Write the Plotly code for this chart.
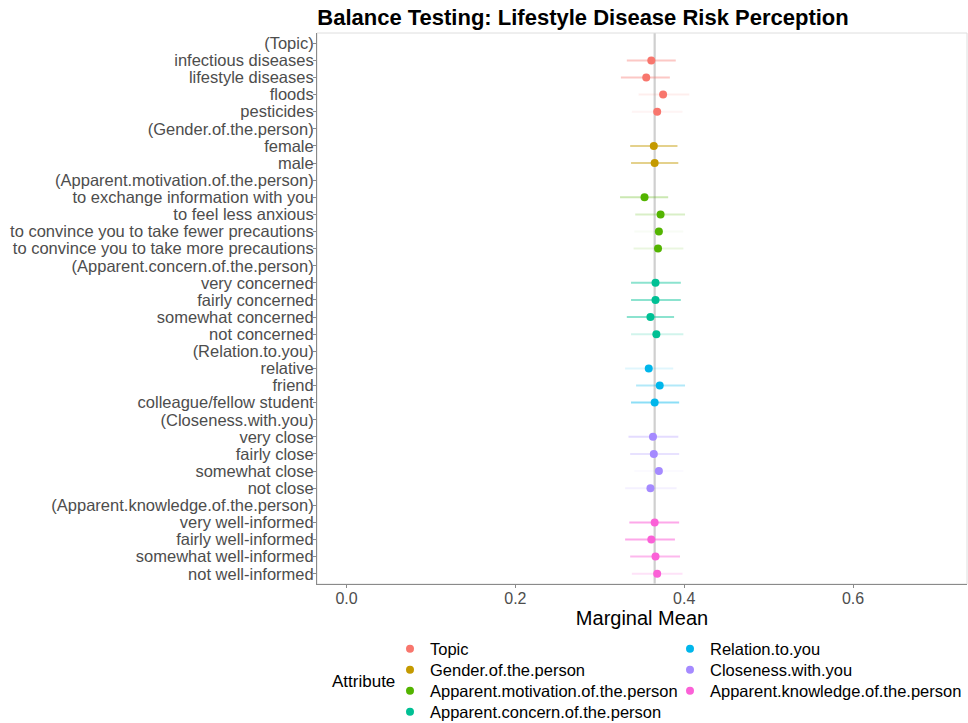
import plotly.graph_objects as go

# ---------------- data ----------------
attributes = [
    "Topic", "Gender.of.the.person", "Apparent.motivation.of.the.person",
    "Apparent.concern.of.the.person", "Relation.to.you", "Closeness.with.you",
    "Apparent.knowledge.of.the.person",
]
colors = ["#F8766D", "#C49A00", "#53B400", "#00C094", "#00B6EB", "#A58AFF", "#FB61D7"]

row_labels = [
    "(Topic)", "infectious diseases", "lifestyle diseases", "floods", "pesticides",
    "(Gender.of.the.person)", "female", "male",
    "(Apparent.motivation.of.the.person)", "to exchange information with you",
    "to feel less anxious", "to convince you to take fewer precautions",
    "to convince you to take more precautions",
    "(Apparent.concern.of.the.person)", "very concerned", "fairly concerned",
    "somewhat concerned", "not concerned",
    "(Relation.to.you)", "relative", "friend", "colleague/fellow student",
    "(Closeness.with.you)", "very close", "fairly close", "somewhat close", "not close",
    "(Apparent.knowledge.of.the.person)", "very well-informed", "fairly well-informed",
    "somewhat well-informed", "not well-informed",
]
row_attr = (
    ["Topic"] * 5 + ["Gender.of.the.person"] * 3
    + ["Apparent.motivation.of.the.person"] * 5
    + ["Apparent.concern.of.the.person"] * 5
    + ["Relation.to.you"] * 4 + ["Closeness.with.you"] * 5
    + ["Apparent.knowledge.of.the.person"] * 5
)
estimate = [
    None, 0.361, 0.355, 0.375, 0.368,
    None, 0.364, 0.365,
    None, 0.353, 0.372, 0.370, 0.369,
    None, 0.366, 0.366, 0.360, 0.367,
    None, 0.358, 0.371, 0.365,
    None, 0.363, 0.364, 0.370, 0.360,
    None, 0.365, 0.361, 0.366, 0.368,
]
lower = [
    None, 0.332, 0.325, 0.346, 0.338,
    None, 0.336, 0.337,
    None, 0.324, 0.342, 0.341, 0.340,
    None, 0.337, 0.337, 0.332, 0.337,
    None, 0.330, 0.343, 0.337,
    None, 0.334, 0.336, 0.341, 0.330,
    None, 0.335, 0.330, 0.336, 0.338,
]
upper = [
    None, 0.390, 0.383, 0.406, 0.398,
    None, 0.392, 0.393,
    None, 0.381, 0.401, 0.399, 0.399,
    None, 0.396, 0.396, 0.388, 0.399,
    None, 0.387, 0.401, 0.394,
    None, 0.393, 0.394, 0.399, 0.391,
    None, 0.394, 0.389, 0.395, 0.398,
]
overall_mean = 0.365
x_ticks = [0.0, 0.2, 0.4, 0.6]

# style: error-bar opacity per row (as seen in the reference)
bar_alpha = [
    0, 0.40, 0.40, 0.12, 0.08,
    0, 0.45, 0.45,
    0, 0.30, 0.22, 0.04, 0.12,
    0, 0.45, 0.45, 0.45, 0.18,
    0, 0.12, 0.30, 0.45,
    0, 0.30, 0.25, 0.04, 0.12,
    0, 0.55, 0.55, 0.45, 0.18,
]


def rgba(hex_color, a):
    h = hex_color.lstrip("#")
    r, g, b = int(h[0:2], 16), int(h[2:4], 16), int(h[4:6], 16)
    return f"rgba({r},{g},{b},{a})"


W, H = 968, 723
ML, MR, MT, MB = 317, 1, 33, 139
FONT = "Liberation Sans, Arial, sans-serif"
row_pos = list(range(len(row_labels)))

fig = go.Figure()

# error bars
for i in row_pos:
    if estimate[i] is None:
        continue
    c = colors[attributes.index(row_attr[i])]
    fig.add_trace(go.Scatter(
        x=[lower[i], upper[i]], y=[i, i], mode="lines",
        line=dict(color=rgba(c, bar_alpha[i]), width=2),
        showlegend=False, hoverinfo="skip",
    ))

# points, one trace per attribute, each with its own legend entry
legend_pos = [
    (390, 649), (390, 670), (390, 691), (390, 712),
    (670, 649), (670, 670), (670, 691),
]
legend_layouts = {}
for k, att in enumerate(attributes):
    idx = [i for i in row_pos if row_attr[i] == att and estimate[i] is not None]
    lname = "legend" if k == 0 else f"legend{k + 1}"
    fig.add_trace(go.Scatter(
        x=[estimate[i] for i in idx], y=idx, mode="markers", name=att,
        text=[row_labels[i] for i in idx],
        hovertemplate="%{text}: %{x:.3f}<extra></extra>",
        marker=dict(color=colors[k], size=8),
        legend=lname, showlegend=True,
    ))
    lx, ly = legend_pos[k]
    legend_layouts[lname] = dict(
        xref="container", yref="container",
        x=lx / W, y=1 - ly / H, xanchor="left", yanchor="middle",
        bgcolor="rgba(0,0,0,0)", borderwidth=0,
        font=dict(family=FONT, size=16.5, color="#000000"),
        itemclick=False, itemdoubleclick=False,
    )

fig.add_shape(type="line", xref="x", yref="paper", x0=overall_mean, x1=overall_mean,
              y0=0, y1=1, line=dict(color="#cfcfcf", width=2.2), layer="below")

# panel border (top/right light grey)
fig.add_shape(type="rect", xref="paper", yref="paper", x0=0, x1=1, y0=0, y1=1,
              line=dict(color="#dedede", width=1), layer="below")

fig.update_layout(
    width=W, height=H,
    margin=dict(l=ML, r=MR, t=MT, b=MB, autoexpand=False),
    paper_bgcolor="white", plot_bgcolor="white",
    font=dict(family=FONT, color="#4d4d4d"),
    title=dict(
        text="<b>Balance Testing: Lifestyle Disease Risk Perception</b>",
        x=583 / W, xanchor="center", xref="container",
        y=1 - 17 / H, yanchor="middle", yref="container",
        font=dict(size=22, color="#000000"),
    ),
    xaxis=dict(
        range=[-0.035, 0.735], tickvals=x_ticks, tickformat=".1f",
        showgrid=False, zeroline=False,
        showline=True, linecolor="#8a8a8a", linewidth=1,
        ticks="outside", ticklen=3, tickcolor="#8a8a8a",
        ticklabelstandoff=-3,
        tickfont=dict(size=16, color="#4d4d4d"),
        title=dict(text="Marginal Mean", font=dict(size=20, color="#000000"), standoff=2),
    ),
    yaxis=dict(
        tickvals=row_pos, ticktext=row_labels,
        range=[len(row_labels) - 1 + 0.6, -0.6],
        showgrid=False, zeroline=False,
        showline=True, linecolor="#8a8a8a", linewidth=1,
        ticks="outside", ticklen=3, tickcolor="#8a8a8a",
        ticklabelstandoff=-4,
        tickfont=dict(size=16.5, color="#4d4d4d"),
    ),
    annotations=[dict(
        text="Attribute", xref="paper", yref="paper",
        x=(330 - ML) / (W - ML - MR), y=-(681 - (H - MB)) / (H - MT - MB),
        xanchor="left", yanchor="middle", showarrow=False,
        font=dict(size=17, color="#000000"),
    )],
    **legend_layouts,
)

fig.write_html(
    "out.html",
    config={"displayModeBar": False},
    post_script="document.body.style.margin='0';document.body.style.overflow='hidden';",
)
